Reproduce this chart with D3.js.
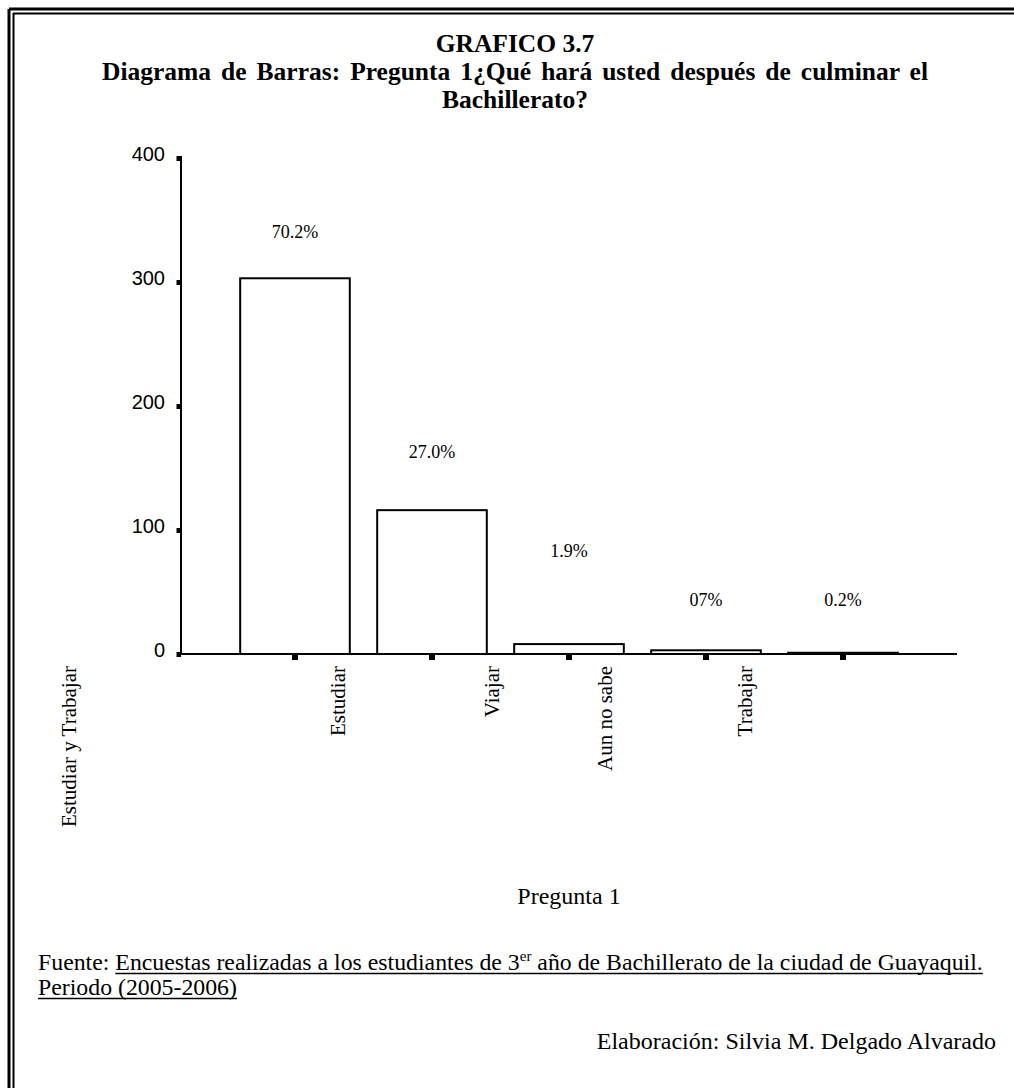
<!DOCTYPE html>
<html><head><meta charset="utf-8">
<script src="https://cdn.jsdelivr.net/npm/d3@7"></script>
<style>body{margin:0;background:#fff} svg{display:block}</style>
</head><body><svg id="c" width="1014" height="1088"></svg>
<script>
// ---- data ----
const categories = ["Estudiar", "Viajar", "Aun no sabe", "Trabajar", "Estudiar y Trabajar"];
const counts = [303, 116, 8, 3, 1];
const percentLabels = ["70.2%", "27.0%", "1.9%", "07%", "0.2%"];
const yTicks = [0, 100, 200, 300, 400];
const titleLines = ["GRAFICO 3.7", "Diagrama de Barras: Pregunta 1¿Qué hará usted después de culminar el", "Bachillerato?"];
const xAxisTitle = "Pregunta 1";
const sourcePrefix = "Fuente: ";
const sourcePartA = "Encuestas realizadas a los estudiantes de 3";
const sourceSup = "er";
const sourcePartB = " año de Bachillerato de la ciudad de Guayaquil.";
const sourceLine2 = "Periodo (2005-2006)";
const credit = "Elaboración: Silvia M. Delgado Alvarado";

// ---- layout ----
const serif = "'Liberation Serif','Times New Roman',serif";
const sans = "'Liberation Sans',Arial,sans-serif";
const labelLift = [40, 52, 87, 44, 47];      // px above bar top for % labels
const catLabelShift = [-5, 12, -12, -9];     // px from bar right edge for rotated labels
const svg = d3.select("#c");

// frame (double line, left & top)
svg.append("line").attr("x1", 9).attr("y1", 9).attr("x2", 1014).attr("y2", 9).attr("stroke", "#000").attr("stroke-width", 3);
svg.append("line").attr("x1", 9).attr("y1", 9).attr("x2", 9).attr("y2", 1088).attr("stroke", "#000").attr("stroke-width", 3);
svg.append("line").attr("x1", 13).attr("y1", 13.5).attr("x2", 1014).attr("y2", 13.5).attr("stroke", "#000").attr("stroke-width", 2);
svg.append("line").attr("x1", 13.5).attr("y1", 13).attr("x2", 13.5).attr("y2", 1088).attr("stroke", "#000").attr("stroke-width", 2);

// title
const titleSel = svg.append("g").selectAll("text").data(titleLines).join("text")
  .attr("x", 515).attr("y", (d, i) => 52 + i * 28)
  .attr("text-anchor", "middle").attr("font-family", serif)
  .attr("font-weight", "bold").attr("font-size", 25.5).text(d => d);
{
  // second line is a justified (full) line in the original
  const t = titleSel.filter((d, i) => i === 1);
  const nat = t.node().getComputedTextLength();
  const spaces = titleLines[1].split(" ").length - 1;
  t.attr("word-spacing", Math.max(0, (826 - nat) / spaces));
}

// scales
const y = d3.scaleLinear().domain([0, 400]).range([654, 158]);
const x = d3.scaleBand().domain(categories).range([181, 957]).paddingInner(0.2).paddingOuter(0.432);

// y axis
const yAxis = svg.append("g").attr("transform", "translate(181,0)")
  .call(d3.axisLeft(y).tickValues(yTicks).tickSize(0).tickPadding(16).tickFormat(d3.format("d")));
yAxis.select(".domain").remove();
yAxis.selectAll(".tick text").attr("font-family", sans).attr("font-size", 20).attr("fill", "#000").attr("dy", "0.1em");
yAxis.selectAll(".tick").append("rect").attr("x", -4.5).attr("y", -2.5).attr("width", 4.5).attr("height", 5).attr("fill", "#000");
svg.append("line").attr("x1", 181).attr("x2", 181).attr("y1", y(400) - 2).attr("y2", y(0)).attr("stroke", "#000").attr("stroke-width", 2);

// bars
svg.append("g").selectAll("rect").data(categories).join("rect")
  .attr("x", d => x(d)).attr("width", x.bandwidth())
  .attr("y", (d, i) => y(counts[i])).attr("height", (d, i) => y(0) - y(counts[i]))
  .attr("fill", "#fff").attr("stroke", "#000").attr("stroke-width", 2);

// x axis line and ticks
svg.append("line").attr("x1", 181).attr("x2", 957).attr("y1", y(0)).attr("y2", y(0)).attr("stroke", "#000").attr("stroke-width", 2);
svg.append("g").selectAll("rect").data(categories).join("rect")
  .attr("x", d => x(d) + x.bandwidth() / 2 - 3).attr("y", y(0)).attr("width", 6).attr("height", 6).attr("fill", "#000");

// percent labels
svg.append("g").selectAll("text").data(categories).join("text")
  .attr("x", d => x(d) + x.bandwidth() / 2)
  .attr("y", (d, i) => y(counts[i]) - labelLift[i])
  .attr("text-anchor", "middle").attr("font-family", serif).attr("font-size", 18)
  .text((d, i) => percentLabels[i]);

// category labels (shifted like the original: the last one ends up at far left)
svg.append("g").selectAll("text").data(categories).join("text")
  .attr("transform", (d, i) => {
    const cx = i < categories.length - 1 ? x(d) + x.bandwidth() + catLabelShift[i] : 76;
    return `translate(${cx},666) rotate(-90)`;
  })
  .attr("text-anchor", "end").attr("font-family", serif).attr("font-size", 21)
  .text(d => d);

// x axis title
svg.append("text").attr("x", 569).attr("y", 904).attr("text-anchor", "middle")
  .attr("font-family", serif).attr("font-size", 24).text(xAxisTitle);

// source
const sx = 38;
const fs = 23.8;
const src = svg.append("text").attr("x", sx).attr("y", 970).attr("font-family", serif).attr("font-size", fs);
const t0 = src.append("tspan").text(sourcePrefix);
src.append("tspan").text(sourcePartA);
src.append("tspan").attr("font-size", 15).attr("dy", -9).text(sourceSup);
src.append("tspan").attr("dy", 9).text(sourcePartB);
const w0 = t0.node().getComputedTextLength();
const wAll = src.node().getComputedTextLength();
svg.append("line").attr("x1", sx + w0).attr("x2", sx + wAll).attr("y1", 973.5).attr("y2", 973.5).attr("stroke", "#000").attr("stroke-width", 1.6);

const src2 = svg.append("text").attr("x", sx).attr("y", 995).attr("font-family", serif).attr("font-size", fs).text(sourceLine2);
const w2 = src2.node().getComputedTextLength();
svg.append("line").attr("x1", sx).attr("x2", sx + w2).attr("y1", 998.5).attr("y2", 998.5).attr("stroke", "#000").attr("stroke-width", 1.6);

svg.append("text").attr("x", 996).attr("y", 1049).attr("text-anchor", "end")
  .attr("font-family", serif).attr("font-size", 24).text(credit);
</script></body></html>
